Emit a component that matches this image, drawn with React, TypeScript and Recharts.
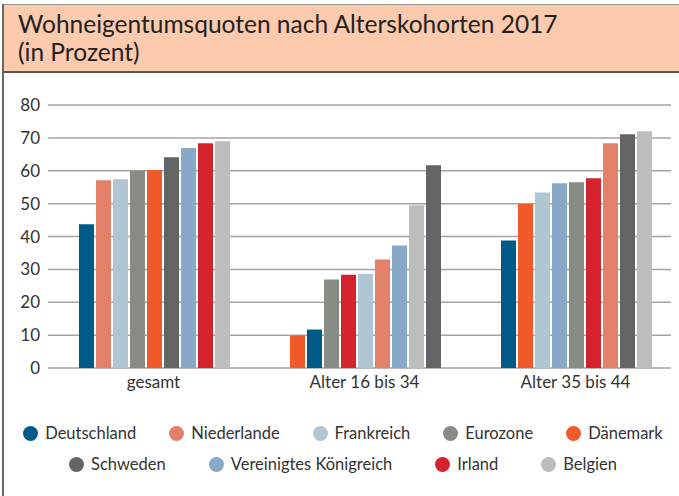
import { BarChart, Bar, XAxis, YAxis, CartesianGrid, Cell } from 'recharts';

const categories = ['gesamt', 'Alter 16 bis 34', 'Alter 35 bis 44'];
const countries = [
  'Deutschland',
  'Niederlande',
  'Frankreich',
  'Eurozone',
  'Dänemark',
  'Schweden',
  'Vereinigtes Königreich',
  'Irland',
  'Belgien',
];
const colors = ['#005a87', '#e38068', '#b1c6d3', '#878c85', '#f15a2b', '#636466', '#88aac8', '#d4232c', '#bbbeba'];

// values per country, in order of categories
const deutschland = [43.7, 11.7, 38.8];
const niederlande = [57.1, 33.0, 68.4];
const frankreich = [57.4, 28.7, 53.4];
const eurozone = [60.1, 26.9, 56.5];
const daenemark = [60.2, 9.9, 49.9];
const schweden = [64.1, 61.7, 71.1];
const vereinigtesKoenigreich = [66.9, 37.3, 56.2];
const irland = [68.4, 28.4, 57.7];
const belgien = [69.0, 49.5, 72.0];

const yTicks = [0, 10, 20, 30, 40, 50, 60, 70, 80];

const seriesValues = [deutschland, niederlande, frankreich, eurozone, daenemark, schweden, vereinigtesKoenigreich, irland, belgien];

// bars are sorted by value inside each group, so build rank slots
const data = categories.map((cat, ci) => {
  const order = countries.map((_, k) => k).sort((a, b) => seriesValues[a][ci] - seriesValues[b][ci]);
  const row: any = { cat };
  order.forEach((k, slot) => {
    row[`s${slot}`] = seriesValues[k][ci];
    row[`c${slot}`] = colors[k];
  });
  return row;
});

const legendRows = [
  [0, 1, 2, 3, 4],
  [5, 6, 7, 8],
];

const font = 'Lato, "Open Sans", sans-serif';

export default function App() {
  return (
    <div style={{ position: 'relative', width: 679, height: 496, background: '#fff', fontFamily: font, overflow: 'hidden' }}>
      <style>{'body{margin:0}'}</style>
      <div
        style={{
          position: 'absolute',
          left: 3,
          top: 4,
          width: 676,
          height: 69,
          background: '#fccaad',
          borderTop: '1.5px solid #999',
          borderBottom: '2px solid #555',
          boxSizing: 'border-box',
        }}
      >
        <div style={{ position: 'absolute', left: 15, top: 5, fontSize: 24.5, lineHeight: '28px', color: '#222', fontWeight: 400 }}>
          Wohneigentumsquoten nach Alterskohorten 2017
          <br />
          (in Prozent)
        </div>
      </div>
      <div style={{ position: 'absolute', left: 2, top: 4, width: 2, height: 492, background: '#666' }} />
      <div style={{ position: 'absolute', left: 0, top: 72 }}>
        <BarChart
          width={679}
          height={424}
          data={data}
          margin={{ top: 33, right: 8, left: 0, bottom: 98 }}
          barCategoryGap={31}
          barGap={2}
        >
          <CartesianGrid vertical={false} stroke="#a3a3a3" strokeWidth={1.5} />
          <XAxis
            dataKey="cat"
            axisLine={false}
            tickLine={false}
            height={30}
            padding={{ left: 0, right: -10 }}
            tick={{ fill: '#333', fontSize: 17, fontFamily: font }}
          />
          <YAxis
            width={48}
            domain={[0, 80]}
            ticks={yTicks}
            axisLine={false}
            tickLine={false}
            tick={{ fill: '#333', fontSize: 17, fontFamily: font }}
          />
          {countries.map((_, slot) => (
            <Bar key={slot} dataKey={`s${slot}`} isAnimationActive={false}>
              {data.map((row, i) => (
                <Cell key={i} fill={row[`c${slot}`]} />
              ))}
            </Bar>
          ))}
        </BarChart>
      </div>
      {legendRows.map((row, ri) => (
        <div
          key={ri}
          style={{
            position: 'absolute',
            left: 0,
            width: 686,
            top: ri === 0 ? 423 : 454,
            display: 'flex',
            justifyContent: 'center',
            gap: ri === 0 ? 33 : 43,
            fontSize: 16.5,
            color: '#333',
          }}
        >
          {row.map((k) => (
            <div key={k} style={{ display: 'flex', alignItems: 'center', gap: 7 }}>
              <span style={{ width: 15, height: 15, borderRadius: '50%', background: colors[k], display: 'inline-block' }} />
              <span>{countries[k]}</span>
            </div>
          ))}
        </div>
      ))}
    </div>
  );
}
